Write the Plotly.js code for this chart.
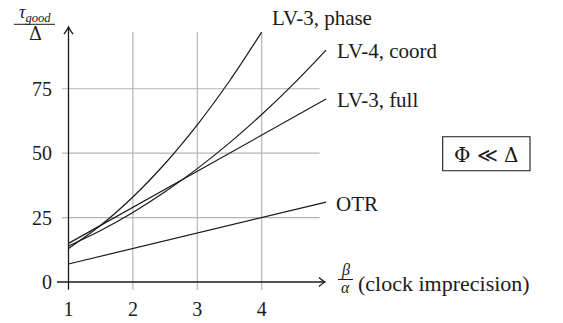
<!DOCTYPE html>
<html>
<head>
<meta charset="utf-8">
<script src="https://cdn.plot.ly/plotly-3.0.1.min.js"></script>
<style>html,body{margin:0;padding:0;background:#fff;}#chart{width:563px;height:323px;}</style>
</head>
<body>
<div id="chart"></div>
<script>
// ---- data ----
const xLinear = [1, 2, 3, 4, 5];
const otrValues = [7, 13, 19, 25, 31];
const lv3FullValues = [15, 29, 43, 57, 71];
const lv4CoordX = [1, 1.5, 2, 2.5, 3, 3.5, 4, 4.5, 5];
const lv4CoordValues = [14, 20, 27, 35, 44, 54, 65, 77, 90];
const lv3PhaseX = [1, 1.5, 2, 2.5, 3, 3.5, 4];
const lv3PhaseValues = [13, 22, 33, 46, 61, 78, 97];
const xTickVals = [1, 2, 3, 4];
const xTickText = ['1', '2', '3', '4'];
const yTickVals = [0, 25, 50, 75];
const yTickText = ['0', '25', '50', '75'];
const seriesLabels = ['LV-3, phase', 'LV-4, coord', 'LV-3, full', 'OTR'];

const FONT = 'Liberation Serif, DejaVu Serif, serif';
const lineStyle = {color: '#1a1a1a', width: 1.2};

const traces = [
  {x: lv3PhaseX, y: lv3PhaseValues, name: seriesLabels[0], mode: 'lines', line: Object.assign({shape: 'spline'}, lineStyle), cliponaxis: false},
  {x: lv4CoordX, y: lv4CoordValues, name: seriesLabels[1], mode: 'lines', line: Object.assign({shape: 'spline'}, lineStyle), cliponaxis: false},
  {x: xLinear, y: lv3FullValues, name: seriesLabels[2], mode: 'lines', line: lineStyle, cliponaxis: false},
  {x: xLinear, y: otrValues, name: seriesLabels[3], mode: 'lines', line: lineStyle, cliponaxis: false}
];

const gridColor = '#b5b5b5';
const shapes = [];
// vertical grid lines
xTickVals.slice(1).forEach(v => shapes.push({type: 'line', xref: 'x', yref: 'y', x0: v, x1: v, y0: -3, y1: 97, line: {color: gridColor, width: 1.2}, layer: 'below'}));
// horizontal grid lines
yTickVals.slice(1).forEach(v => shapes.push({type: 'line', xref: 'x', yref: 'y', x0: 0.9, x1: 4.9, y0: v, y1: v, line: {color: gridColor, width: 1.2}, layer: 'below'}));
// axes
const axisLine = {color: '#1a1a1a', width: 1.3};
shapes.push({type: 'line', xref: 'x', yref: 'y', x0: 0.82, x1: 4.983, y0: 0, y1: 0, line: axisLine});
shapes.push({type: 'line', xref: 'x', yref: 'y', x0: 1, x1: 1, y0: -3, y1: 98.95, line: axisLine});
// arrowheads
shapes.push({type: 'path', xref: 'x', yref: 'y', path: 'M 4.89 1.75 Q 4.95 0.4 4.983 0 Q 4.95 -0.4 4.89 -1.75', line: axisLine});
shapes.push({type: 'path', xref: 'x', yref: 'y', path: 'M 0.93 96.2 Q 0.99 98.3 1 98.95 Q 1.01 98.3 1.07 96.2', line: axisLine});
// fraction bars
const px2paperX = p => (p - 56) / 274;
const px2paperY = p => (290 - p) / 270;
shapes.push({type: 'line', xref: 'paper', yref: 'paper', x0: px2paperX(14), x1: px2paperX(55), y0: px2paperY(24.3), y1: px2paperY(24.3), line: {color: '#1a1a1a', width: 1}});
shapes.push({type: 'line', xref: 'paper', yref: 'paper', x0: px2paperX(338), x1: px2paperX(353), y0: px2paperY(279.5), y1: px2paperY(279.5), line: {color: '#1a1a1a', width: 1}});
// box
shapes.push({type: 'rect', xref: 'paper', yref: 'paper', x0: px2paperX(442.7), x1: px2paperX(530), y0: px2paperY(170.7), y1: px2paperY(136.7), line: {color: '#1a1a1a', width: 1.1}});

const txt = (text, px, py, size, anchor, family) => ({
  text: text, xref: 'paper', yref: 'paper', x: px2paperX(px), y: px2paperY(py),
  xanchor: anchor || 'left', yanchor: 'middle', showarrow: false,
  font: {family: family || FONT, size: size, color: '#1a1a1a'}
});

const annotations = [
  txt(seriesLabels[0], 270, 18, 21),
  txt(seriesLabels[1], 335, 51, 21),
  txt(seriesLabels[2], 335, 100, 21),
  txt(seriesLabels[3], 334, 204, 21),
  txt('Φ ≪ Δ', 486.3, 154.5, 20, 'center', 'DejaVu Serif, serif'),
  txt('<i>τ</i><sub><i>good</i></sub>', 35, 13, 18, 'center'),
  txt('Δ', 35, 33, 18, 'center', 'DejaVu Serif, serif'),
  txt('<i>β</i>', 345.5, 270, 16, 'center'),
  txt('<i>α</i>', 345.5, 287, 16, 'center'),
  txt('(clock imprecision)', 356, 283, 22)
];

const layout = {
  width: 563, height: 323,
  margin: {l: 56, r: 233, t: 20, b: 33},
  paper_bgcolor: '#ffffff', plot_bgcolor: '#ffffff',
  showlegend: false,
  font: {family: FONT, size: 20, color: '#1a1a1a'},
  xaxis: {range: [0.806, 5.061], showgrid: false, zeroline: false, showline: false,
    tickmode: 'array', tickvals: xTickVals, ticktext: xTickText, ticks: '', ticklabelstandoff: 5,
    tickfont: {family: FONT, size: 20, color: '#1a1a1a'}, fixedrange: true},
  yaxis: {range: [-3.10, 101.68], showgrid: false, zeroline: false, showline: false,
    tickmode: 'array', tickvals: yTickVals, ticktext: yTickText, ticks: '', ticklabelstandoff: 3,
    tickfont: {family: FONT, size: 20, color: '#1a1a1a'}, fixedrange: true},
  shapes: shapes,
  annotations: annotations
};

Plotly.newPlot('chart', traces, layout, {displayModeBar: false, staticPlot: true});
</script>
</body>
</html>
